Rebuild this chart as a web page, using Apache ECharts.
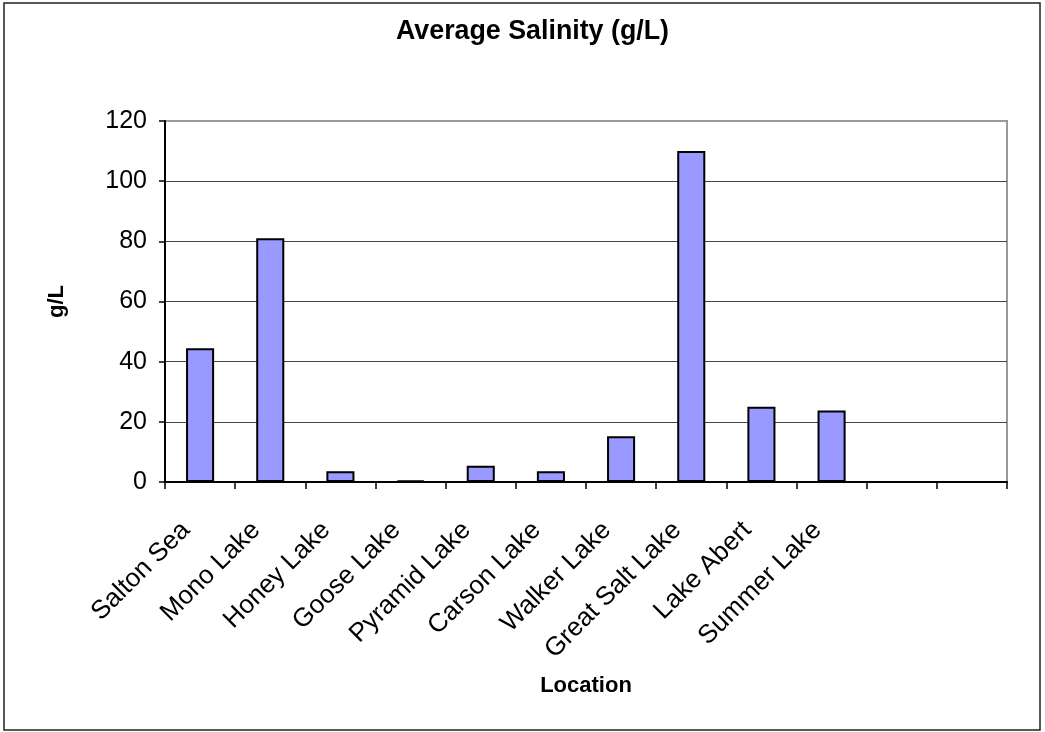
<!DOCTYPE html>
<html>
<head>
<meta charset="utf-8">
<script src="https://cdn.jsdelivr.net/npm/echarts@6/dist/echarts.min.js"></script>
<style>html,body{margin:0;padding:0;background:#fff;}#chart{width:1045px;height:732px;}</style>
</head>
<body>
<div id="chart"></div>
<script>
const categories = ['Salton Sea','Mono Lake','Honey Lake','Goose Lake','Pyramid Lake','Carson Lake','Walker Lake','Great Salt Lake','Lake Abert','Summer Lake','',''];
const salinity = [44.5, 81, 3.6, 0.5, 5.4, 3.6, 15.2, 110, 25, 23.8, '-', '-'];
const yTicks = [0, 20, 40, 60, 80, 100, 120];

const chart = echarts.init(document.getElementById('chart'));
const font = 'Arial, "Liberation Sans", sans-serif';
chart.setOption({
  animation: false,
  backgroundColor: '#fff',
  title: {
    text: 'Average Salinity (g/L)',
    left: 391, top: 13,
    textStyle: {fontFamily: font, fontSize: 26.8, fontWeight: 'bold', color: '#000'}
  },
  graphic: [{
    type: 'rect', shape: {x: 4, y: 3, width: 1036, height: 727},
    style: {fill: 'none', stroke: '#222', lineWidth: 1.5}, silent: true, z: -1
  }],
  grid: {left: 165, right: 38, top: 121, bottom: 250, show: true, borderColor: '#999', borderWidth: 2, backgroundColor: 'transparent'},
  xAxis: {
    type: 'category', data: categories,
    name: 'Location', nameLocation: 'middle', nameGap: 193,
    nameTextStyle: {fontFamily: font, fontSize: 22, fontWeight: 'bold', color: '#000'},
    axisLine: {lineStyle: {color: '#000', width: 2}},
    axisTick: {show: true, alignWithLabel: false, length: 7, lineStyle: {color: '#000', width: 1.5}},
    axisLabel: {rotate: 45, margin: 30, interval: 0, padding: [0, 20, 0, 0], fontFamily: font, fontSize: 26, color: '#000'},
    splitLine: {show: false}
  },
  yAxis: {
    type: 'value', min: 0, max: 120, interval: 20,
    name: 'g/L', nameLocation: 'middle', nameGap: 97, nameRotate: 90,
    nameTextStyle: {fontFamily: font, fontSize: 22, fontWeight: 'bold', color: '#000'},
    axisLine: {show: true, lineStyle: {color: '#000', width: 2}},
    axisTick: {show: true, length: 6, lineStyle: {color: '#000', width: 1.5}},
    axisLabel: {margin: 18, fontFamily: font, fontSize: 25, color: '#000',
      formatter: v => yTicks.includes(v) ? String(v) : ''},
    splitLine: {show: true, lineStyle: {color: ['#444','#444','#444','#444','#444','#444','#999'], width: 1}}
  },
  series: [{
    type: 'bar', data: salinity, barWidth: '40%',
    itemStyle: {color: '#9999FF', borderColor: '#000', borderWidth: 2}
  }]
});
</script>
</body>
</html>
